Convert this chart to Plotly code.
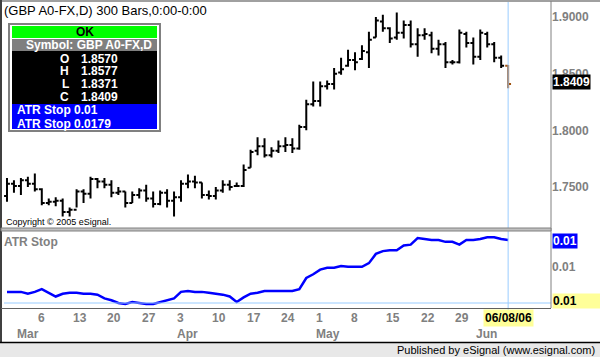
import plotly.graph_objects as go

# ---------------- data ----------------
bar_index = list(range(73))  # Feb 28 2006 .. Jun 08 2006 (daily bars)

opens = [1.742, 1.753, 1.751, 1.756, 1.753, 1.748, 1.736, 1.737, 1.738, 1.728,
         1.730, 1.746, 1.744, 1.757, 1.755, 1.752, 1.745, 1.746, 1.736, 1.743,
         1.747, 1.740, 1.735, 1.745, 1.738, 1.741, 1.753, 1.755, 1.754, 1.743,
         1.742, 1.747, 1.752, 1.751, 1.751, 1.767, 1.782, 1.786, 1.778, 1.782,
         1.786, 1.787, 1.784, 1.803, 1.823, 1.826, 1.839, 1.841, 1.851, 1.857,
         1.862, 1.863, 1.869, 1.882, 1.896, 1.890, 1.882, 1.886, 1.893, 1.876,
         1.884, 1.884, 1.872, 1.876, 1.860, 1.860, 1.885, 1.877, 1.865, 1.885,
         1.876, 1.864, 1.8570]
highs = [1.758, 1.756, 1.758, 1.759, 1.762, 1.749, 1.740, 1.741, 1.740, 1.732,
         1.748, 1.748, 1.759, 1.758, 1.758, 1.756, 1.750, 1.746, 1.746, 1.749,
         1.752, 1.746, 1.747, 1.748, 1.746, 1.756, 1.761, 1.760, 1.754, 1.747,
         1.750, 1.756, 1.756, 1.754, 1.770, 1.783, 1.794, 1.793, 1.785, 1.791,
         1.794, 1.793, 1.805, 1.827, 1.843, 1.843, 1.844, 1.855, 1.864, 1.871,
         1.869, 1.875, 1.887, 1.900, 1.902, 1.891, 1.904, 1.897, 1.897, 1.890,
         1.890, 1.887, 1.880, 1.878, 1.862, 1.889, 1.887, 1.882, 1.889, 1.887,
         1.878, 1.866, 1.8577]
lows = [1.737, 1.745, 1.743, 1.750, 1.746, 1.734, 1.734, 1.733, 1.724, 1.724,
        1.732, 1.736, 1.740, 1.749, 1.749, 1.741, 1.743, 1.732, 1.736, 1.740,
        1.737, 1.732, 1.734, 1.732, 1.724, 1.737, 1.749, 1.749, 1.740, 1.739,
        1.739, 1.745, 1.747, 1.750, 1.750, 1.767, 1.778, 1.776, 1.776, 1.780,
        1.781, 1.780, 1.783, 1.800, 1.821, 1.821, 1.836, 1.836, 1.849, 1.856,
        1.853, 1.862, 1.855, 1.882, 1.887, 1.877, 1.880, 1.881, 1.873, 1.865,
        1.880, 1.868, 1.866, 1.855, 1.858, 1.859, 1.873, 1.858, 1.862, 1.873,
        1.860, 1.855, 1.8371]
closes = [1.753, 1.751, 1.756, 1.753, 1.748, 1.736, 1.737, 1.738, 1.728, 1.730,
          1.746, 1.744, 1.757, 1.755, 1.752, 1.745, 1.746, 1.736, 1.743, 1.747,
          1.740, 1.735, 1.745, 1.738, 1.741, 1.753, 1.755, 1.754, 1.743, 1.742,
          1.747, 1.752, 1.750, 1.751, 1.765, 1.781, 1.786, 1.778, 1.782, 1.786,
          1.787, 1.784, 1.803, 1.823, 1.826, 1.839, 1.841, 1.850, 1.854, 1.862,
          1.860, 1.870, 1.880, 1.897, 1.890, 1.881, 1.886, 1.893, 1.876, 1.884,
          1.885, 1.872, 1.876, 1.860, 1.860, 1.886, 1.877, 1.865, 1.886, 1.876,
          1.864, 1.857, 1.8409]

atr_stop = [0.0123, 0.0123, 0.0123, 0.0121, 0.0123, 0.0126, 0.0122, 0.0118, 0.0121, 0.0122,
            0.0122, 0.0121, 0.0121, 0.0120, 0.0116, 0.0114, 0.0111, 0.0110, 0.0112, 0.0111,
            0.0110, 0.0110, 0.0112, 0.0114, 0.0116, 0.0123, 0.0124, 0.0123, 0.0123, 0.0122,
            0.0121, 0.0120, 0.0118, 0.0112, 0.0117, 0.0121, 0.0122, 0.0124, 0.0124, 0.0124,
            0.0124, 0.0124, 0.0126, 0.0138, 0.0142, 0.0147, 0.0149, 0.0149, 0.0151, 0.0150,
            0.0150, 0.0150, 0.0154, 0.0164, 0.0167, 0.0168, 0.0168, 0.0173, 0.0174, 0.0181,
            0.0180, 0.0179, 0.0179, 0.0177, 0.0177, 0.0174, 0.0179, 0.0179, 0.0180, 0.0182,
            0.0182, 0.0180, 0.0179]

price_ticks = [1.75, 1.80, 1.85, 1.90]
price_tick_text = ["1.7500", "1.8000", "1.8500", "1.9000"]

day_tick_idx = [4, 9, 14, 19, 24, 29, 34, 39, 44, 49, 54, 59, 64]
day_tick_text = ["6", "13", "20", "27", "3", "10", "17", "24", "1", "8", "15", "22", "29"]
month_idx = [1, 24, 44, 67]
month_text = ["Mar", "Apr", "May", "Jun"]
cursor_idx = 72
cursor_text = "06/08/06"

title_text = "(GBP A0-FX,D) 300 Bars,0:00-0:00"
symbol_text = "Symbol: GBP A0-FX,D"
ohlc_labels = ["O", "H", "L", "C"]
ohlc_values = ["1.8570", "1.8577", "1.8371", "1.8409"]
study_lines = ["ATR Stop 0.01", "ATR Stop 0.0179"]

# ---------------- geometry helpers (pixel -> paper) ----------------
L, R, T, B = 4, 551, 1, 308
W, H = 600, 357


def px(x):
    return (x - L) / (R - L)


def py(y):
    return (B - y) / (B - T)


FONT = "Liberation Sans, Arial, sans-serif"
GRAY = "#808080"

fig = go.Figure()

fig.add_trace(go.Ohlc(
    x=bar_index[:-1], open=opens[:-1], high=highs[:-1], low=lows[:-1], close=closes[:-1],
    increasing=dict(line=dict(color="black", width=2)),
    decreasing=dict(line=dict(color="black", width=2)),
    tickwidth=0.42, xaxis="x", yaxis="y", hoverinfo="skip", showlegend=False))
fig.add_trace(go.Ohlc(
    x=bar_index[-2:], open=[None, opens[-1]], high=[None, highs[-1]],
    low=[None, lows[-1]], close=[None, closes[-1]],
    increasing=dict(line=dict(color="#a0520f", width=2)),
    decreasing=dict(line=dict(color="#a0520f", width=2)),
    tickwidth=0.42, xaxis="x", yaxis="y", hoverinfo="skip", showlegend=False))

fig.add_trace(go.Scatter(
    x=bar_index, y=atr_stop, mode="lines",
    line=dict(color="#0000ff", width=2.5), xaxis="x2", yaxis="y2",
    hoverinfo="skip", showlegend=False))

upper_dom = [py(229), 1]
lower_dom = [0, py(231)]

fig.update_layout(
    width=W, height=H,
    margin=dict(l=L, r=W - R, t=T, b=H - B),
    paper_bgcolor="white", plot_bgcolor="white",
    showlegend=False,
    xaxis=dict(domain=[0, 1], anchor="y", range=[-0.43, 78.16], showticklabels=False,
               showgrid=False, zeroline=False, rangeslider=dict(visible=False), ticks=""),
    xaxis2=dict(domain=[0, 1], anchor="y2", range=[-0.43, 78.16], matches="x",
                showticklabels=False, showgrid=False, zeroline=False, ticks=""),
    yaxis=dict(domain=upper_dom, anchor="x", side="right", range=[1.7130, 1.9141],
               tickvals=price_ticks, ticktext=price_tick_text, showgrid=False,
               zeroline=False, ticks="",
               tickfont=dict(family=FONT, size=12, color=GRAY, weight="bold")),
    yaxis2=dict(domain=lower_dom, anchor="x2", side="right", range=[0.01056, 0.01887],
                tickvals=[0.0150], ticktext=["0.01"], showgrid=False, zeroline=False,
                ticks="", tickfont=dict(family=FONT, size=12, color=GRAY, weight="bold")),
)

shapes = []
ann = []

# cursor lines
shapes.append(dict(type="line", xref="x", yref="paper", x0=cursor_idx, x1=cursor_idx,
                   y0=py(310), y1=py(1), line=dict(color="#99ccff", width=1)))
shapes.append(dict(type="line", xref="paper", yref="paper", x0=0, x1=1,
                   y0=py(303), y1=py(303), line=dict(color="#99ccff", width=1)))

# frame lines
shapes.append(dict(type="line", xref="paper", yref="paper", x0=px(0), x1=px(600),
                   y0=py(1), y1=py(1), line=dict(color="#a0a0a0", width=2)))
shapes.append(dict(type="line", xref="paper", yref="paper", x0=px(1), x1=px(1),
                   y0=py(0), y1=py(342), line=dict(color="#404040", width=2)))
shapes.append(dict(type="line", xref="paper", yref="paper", x0=1, x1=1,
                   y0=py(1), y1=py(308), line=dict(color=GRAY, width=1)))
shapes.append(dict(type="rect", xref="paper", yref="paper", x0=px(1), x1=1,
                   y0=py(228), y1=py(231), fillcolor="#c0c0c0",
                   line=dict(color=GRAY, width=1)))
shapes.append(dict(type="line", xref="paper", yref="paper", x0=px(1), x1=1,
                   y0=py(308.5), y1=py(308.5), line=dict(color="#606060", width=1)))
# footer
shapes.append(dict(type="rect", xref="paper", yref="paper", x0=px(0), x1=px(600),
                   y0=py(343), y1=py(358), fillcolor="#e8e8e8", line=dict(width=0)))
shapes.append(dict(type="line", xref="paper", yref="paper", x0=px(0), x1=px(600),
                   y0=py(342.5), y1=py(342.5), line=dict(color="black", width=1.5)))

# status window
shapes.append(dict(type="rect", xref="paper", yref="paper", x0=px(9), x1=px(160),
                   y0=py(131), y1=py(24), fillcolor="white",
                   line=dict(color=GRAY, width=2)))
panels = [(26, 38, "#00ff00"), (39, 51, "#7f7f7f"), (51, 104, "black"), (104, 129, "#0000ff")]
for y0, y1, col in panels:
    shapes.append(dict(type="rect", xref="paper", yref="paper", x0=px(12), x1=px(157),
                       y0=py(y1), y1=py(y0), fillcolor=col, line=dict(width=0)))


def text(x, y, s, size=12, color="black", bold=True, xanchor="left", bg=None, **kw):
    d = dict(xref="paper", yref="paper", x=px(x), y=py(y), text=s, showarrow=False,
             xanchor=xanchor, yanchor="middle",
             font=dict(family=FONT, size=size, color=color,
                       weight="bold" if bold else "normal"))
    if bg:
        d["bgcolor"] = bg
    d.update(kw)
    ann.append(d)


text(2, 10, title_text, size=13, bold=False)
text(85, 32, "OK", size=12, xanchor="center")
text(89, 45, symbol_text, size=12, color="white", xanchor="center")
for i, (lab, val) in enumerate(zip(ohlc_labels, ohlc_values)):
    yy = [59, 71, 84, 97][i]
    text(71, yy, lab, color="white", xanchor="right")
    text(79, yy, val, color="white")
text(15, 110, study_lines[0], color="white")
text(15, 124, study_lines[1], color="white")
text(4, 222, "Copyright \u00a9 2005 eSignal.", size=9, bold=False)
text(2, 242, "ATR Stop", size=12, color=GRAY)

# right-side value boxes
text(552, 81.5, "1.8409", color="white", bg="black", borderpad=0)
text(552, 241, "0.01", color="white", bg="#0000ff", borderpad=0)
text(552, 301, "0.01&nbsp;&nbsp;&nbsp;&nbsp;&nbsp;&nbsp;&nbsp;", color="black", bg="#ffff99",
     borderpad=0)

# x-axis labels
for i, t in zip(day_tick_idx, day_tick_text):
    ann.append(dict(xref="x2", yref="paper", x=i, y=py(318), text=t, showarrow=False,
                    xanchor="left", yanchor="middle", xshift=1,
                    font=dict(family=FONT, size=12, color=GRAY, weight="bold")))
for i, t in zip(month_idx, month_text):
    ann.append(dict(xref="x2", yref="paper", x=i, y=py(334), text=t, showarrow=False,
                    xanchor="left", yanchor="middle", xshift=1,
                    font=dict(family=FONT, size=12, color=GRAY, weight="bold")))
ann.append(dict(xref="x2", yref="paper", x=cursor_idx, y=py(318), text=cursor_text,
                showarrow=False, xanchor="center", yanchor="middle", bgcolor="#ffff99",
                borderpad=1, font=dict(family=FONT, size=12, color="black", weight="bold")))

text(597, 350, "Published by eSignal (www.esignal.com)", size=11, bold=False, xanchor="right")

fig.update_layout(shapes=shapes, annotations=ann)
fig.write_html("out.html", config={"displayModeBar": False},
               post_script="document.body.style.margin='0';document.body.style.padding='0';")
